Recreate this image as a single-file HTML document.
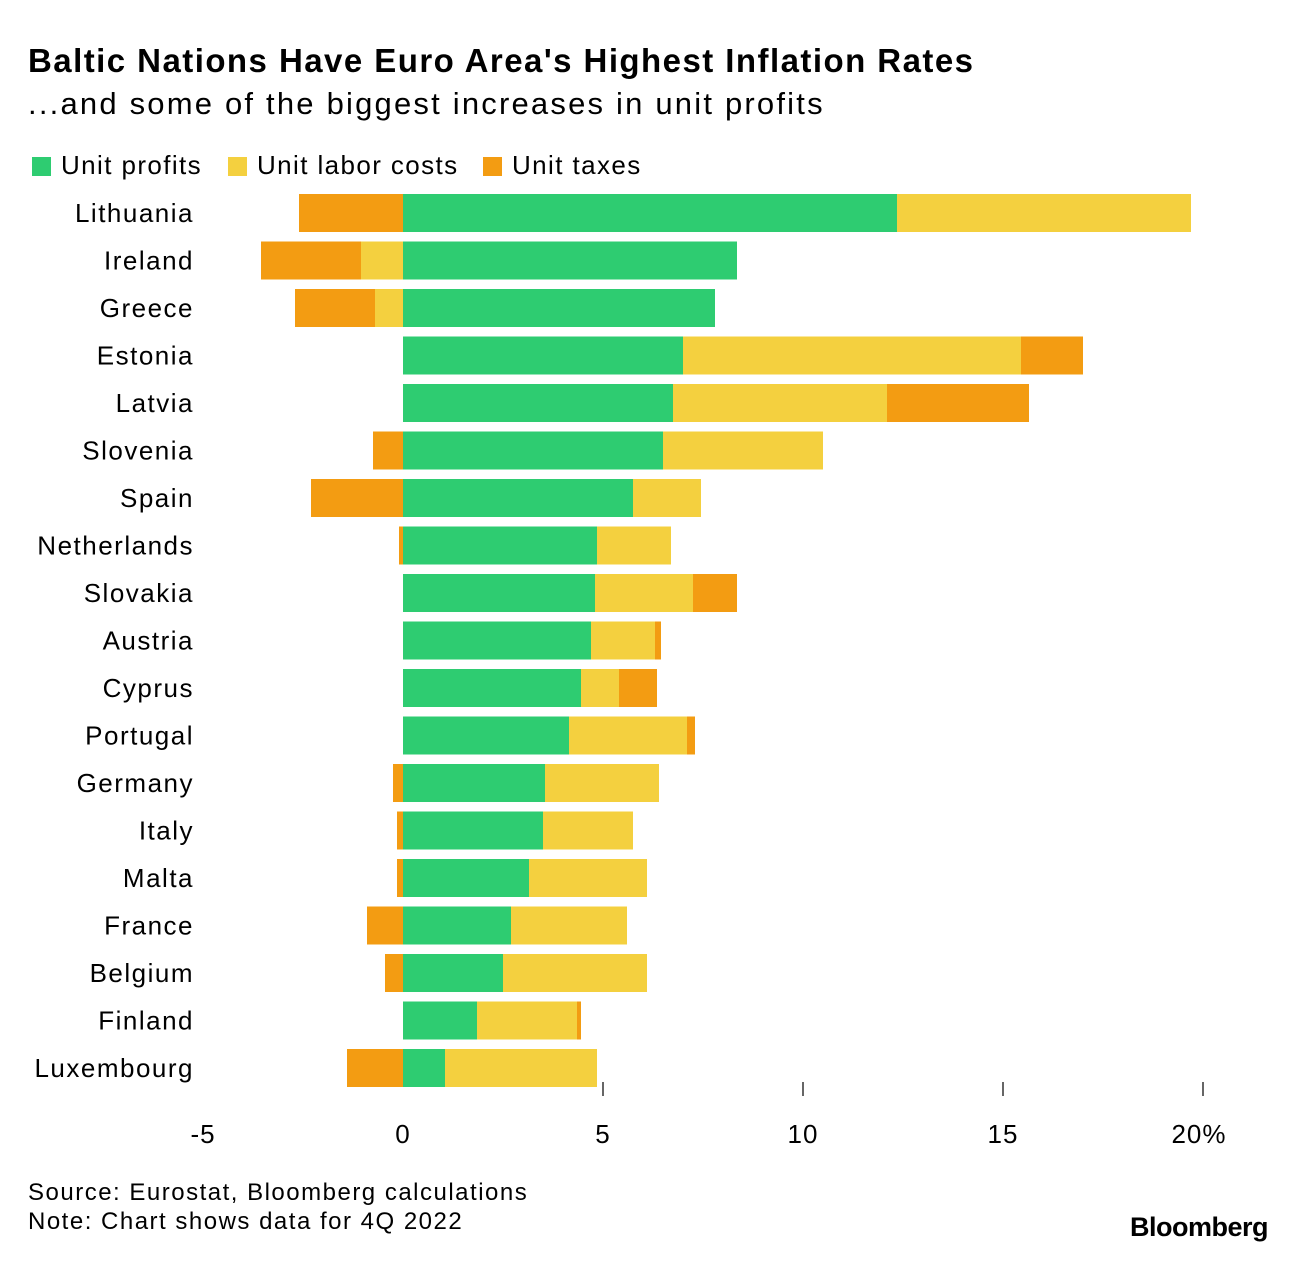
<!DOCTYPE html>
<html><head><meta charset="utf-8"><style>
body{margin:0;background:#fff;font-family:"Liberation Sans",sans-serif;}
#wrap{position:relative;width:1296px;height:1262px;overflow:hidden}
.t{position:absolute;white-space:nowrap;color:#000}
</style></head><body>
<div id="wrap">
<div class="t" style="left:28px;top:42px;font-size:33px;font-weight:bold;letter-spacing:1.45px">Baltic Nations Have Euro Area's Highest Inflation Rates</div>
<div class="t" style="left:28px;top:86px;font-size:31px;letter-spacing:2.2px">...and some of the biggest increases in unit profits</div>
<div>
<div class="t" style="left:32px;top:150px;font-size:26px;letter-spacing:1.4px"><span style="display:inline-block;width:19px;height:19px;background:#2ecc71;margin-right:10px;vertical-align:-2px"></span>Unit profits</div>
<div class="t" style="left:228px;top:150px;font-size:26px;letter-spacing:1.4px"><span style="display:inline-block;width:19px;height:19px;background:#f4d03f;margin-right:10px;vertical-align:-2px"></span>Unit labor costs</div>
<div class="t" style="left:483px;top:150px;font-size:26px;letter-spacing:1.4px"><span style="display:inline-block;width:19px;height:19px;background:#f39c12;margin-right:10px;vertical-align:-2px"></span>Unit taxes</div>
</div>
<svg id="chart" width="1296" height="1262" style="position:absolute;left:0;top:0"></svg>
<div class="t" style="left:28px;top:1179px;font-size:24px;letter-spacing:1.5px">Source: Eurostat, Bloomberg calculations</div>
<div class="t" style="left:28px;top:1208px;font-size:24px;letter-spacing:1.5px">Note: Chart shows data for 4Q 2022</div>
<div class="t" style="left:1130px;top:1212px;font-size:27px;font-weight:bold;letter-spacing:-0.5px">Bloomberg</div>
</div>
<script>
const countries=["Lithuania","Ireland","Greece","Estonia","Latvia","Slovenia","Spain","Netherlands","Slovakia","Austria","Cyprus","Portugal","Germany","Italy","Malta","France","Belgium","Finland","Luxembourg"];
const unitProfits=[12.35,8.35,7.8,7.0,6.75,6.5,5.75,4.85,4.8,4.7,4.45,4.15,3.55,3.5,3.15,2.7,2.5,1.85,1.05];
const unitLaborCosts=[7.35,-1.05,-0.7,8.45,5.35,4.0,1.7,1.85,2.45,1.6,0.95,2.95,2.85,2.25,2.95,2.9,3.6,2.5,3.8];
const unitTaxes=[-2.6,-2.5,-2.0,1.55,3.55,-0.75,-2.3,-0.1,1.1,0.15,0.95,0.2,-0.25,-0.15,-0.15,-0.9,-0.45,0.1,-1.4];
const tickValues=[-5,0,5,10,15,20];
const tickLabels=["-5","0","5","10","15","20%"];
const svg=document.getElementById('chart');
const NS='http://www.w3.org/2000/svg';
const x=v=>403+v*40;
const yc=i=>213+i*47.5;
const bh=38;
const series=[["unit-profits",unitProfits,"#2ecc71"],["unit-labor-costs",unitLaborCosts,"#f4d03f"],["unit-taxes",unitTaxes,"#f39c12"]];
countries.forEach((c,i)=>{
  const t=document.createElementNS(NS,'text');
  
  
  t.setAttribute('x',194);t.setAttribute('y',yc(i)+9);
  t.setAttribute('text-anchor','end');t.setAttribute('font-size','26');
  t.setAttribute('letter-spacing','1.5');
  t.setAttribute('font-family','Liberation Sans, sans-serif');
  t.textContent=c;svg.appendChild(t);
  let pos=0,neg=0;
  series.forEach(([name,arr,col])=>{
    const v=arr[i];let a,b;
    if(v>=0){a=pos;b=pos+v;pos=b;}else{a=neg+v;b=neg;neg=a;}
    const r=document.createElementNS(NS,'rect');
    
    
    r.setAttribute('x',x(a));r.setAttribute('width',Math.max(0,x(b)-x(a)));
    r.setAttribute('y',yc(i)-bh/2);r.setAttribute('height',bh);
    r.setAttribute('fill',col);svg.appendChild(r);
  });
});
tickValues.forEach((v,k)=>{
  if(v>0){
    const l=document.createElementNS(NS,'line');
    
    
    l.setAttribute('x1',x(v));l.setAttribute('x2',x(v));l.setAttribute('y1',1082);l.setAttribute('y2',1096);
    l.setAttribute('stroke','#000');l.setAttribute('stroke-width','1.2');svg.appendChild(l);
  }
  const t=document.createElementNS(NS,'text');
  
  
  t.setAttribute('x',x(v)+(v===20?-4:0));t.setAttribute('y',1143);
  t.setAttribute('text-anchor','middle');t.setAttribute('font-size','26');
  t.setAttribute('letter-spacing','1');
  t.setAttribute('font-family','Liberation Sans, sans-serif');
  t.textContent=tickLabels[k];svg.appendChild(t);
});
</script>
</body></html>
